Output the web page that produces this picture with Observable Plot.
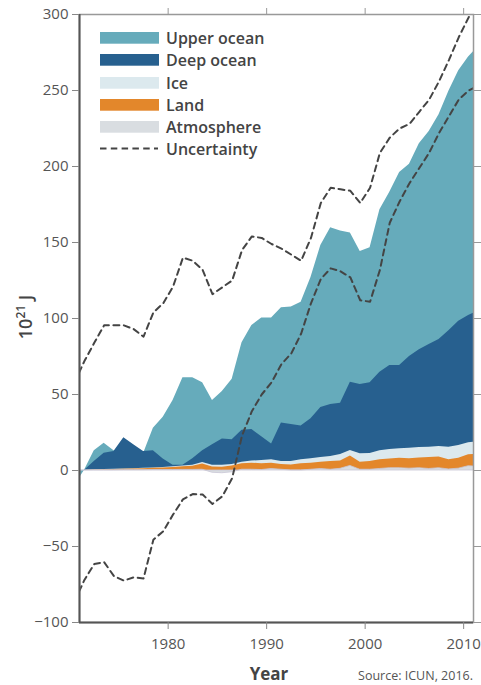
<!DOCTYPE html>
<html><head><meta charset="utf-8">
<script src="https://cdn.jsdelivr.net/npm/d3@7"></script>
<script src="https://cdn.jsdelivr.net/npm/@observablehq/plot@0.6"></script>
<style>body{margin:0;background:#fff} svg{display:block}</style>
</head><body><div id="chart"></div>
<script>
// Years (each value is plotted at the middle of its year)
const years = [1970,1971,1972,1973,1974,1975,1976,1977,1978,1979,1980,1981,1982,1983,1984,1985,1986,1987,1988,1989,1990,1991,1992,1993,1994,1995,1996,1997,1998,1999,2000,2001,2002,2003,2004,2005,2006,2007,2008,2009,2010,2011];
// Energy accumulation components, 10^21 J
const upperOcean = [-10,0,7,6.6,0.5,-11.5,-8,-1.5,14.8,27.5,42.5,57.5,53.3,44.7,29,31.2,39.7,57.5,68.4,78.1,82.8,75.8,77.2,81.5,93,106.5,116.3,113.2,98.2,87.4,88.8,106.8,114,127,126.5,135.6,140.1,147.8,157.5,164.8,170,174];
const deepOcean = [0,0,5.6,10.8,11.7,20.5,15.8,11.1,11.3,5.5,1.0,0.5,4.2,7.8,13.5,17.3,16.3,21,20.8,15.7,10.5,25.2,24.3,22.2,26.3,33,34.2,33.8,44.9,45.6,46.5,51.7,55.2,54.7,60.3,64.2,67.6,70.4,76.7,81.7,83.7,86];
const ice = [0,0,0.1,0.1,0.2,0.2,0.2,0.2,0.3,0.4,0.5,0.5,0.7,1.0,1.2,1.3,1.0,1.1,1.4,2.0,2.2,2.1,2.4,2.5,2.9,3.0,3.2,4.2,3.7,5.5,5.2,6.0,6.3,6.3,6.9,6.9,6.8,7.0,8.3,8.5,8.0,8.2];
const land = [0,0,0.2,0.4,0.5,0.6,0.8,1.0,1.1,1.3,1.7,2.1,2.4,3.7,3.8,4.0,4.2,3.9,4.3,4.2,3.8,3.4,3.6,4.5,4.3,4.5,5.5,5.2,6.5,5.0,5.5,6.0,6.0,6.5,6.6,6.8,7.5,7.3,6.3,6.8,7.5,8.3];
const atmosphere = [0,0,0.1,0.1,0.1,0.2,0.2,0.2,0.3,0.3,0.3,0.4,0.4,0.5,-1.5,-1.8,-1.2,0.5,0.5,0.3,1.0,0.5,0,0,0.5,1.0,0.5,1.1,3.0,0.5,0.5,1.0,1.5,1.5,1.2,1.5,1.0,1.5,0.7,1.2,2.8,2.5];
const uncertaintyHigh = [58,72,84,95.5,95.5,95.5,93,88,104,110,121,140,138,132,116,120.5,125,145,154,153,149,146,142,138,153,176,186,185,184,176,186,209,219,225,228,236,244,256,270,285,298,312];
const uncertaintyLow = [-86,-72,-61.5,-60.3,-69.5,-72.4,-70.3,-71,-45.5,-40,-29,-19,-15.5,-15.8,-22,-17,-5,23,39,50,58,70,77,90,110,126,133,131,127,112,111,132,163,177,189,199,209,222,233,244,250,253];

const yTicks = [-100,-50,0,50,100,150,200,250,300];
const xTicks = [1980,1990,2000,2010];
const xDomain = [1971, 2011];
const yDomain = [-100, 300];
const legendLabels = ["Upper ocean","Deep ocean","Ice","Land","Atmosphere","Uncertainty"];
const legendColors = ["#66abbb","#27608f","#dce9ee","#e3872b","#d9dde1","#444444"];

const rows = years.map((yr, i) => {
  const a = atmosphere[i];
  const l = a + land[i];
  const ic = l + ice[i];
  const dp = ic + deepOcean[i];
  const up = dp + upperOcean[i];
  return {t: yr + 0.5, a, l, ic, dp, up, hi: uncertaintyHigh[i], lo: uncertaintyLow[i]};
});

const fmt = d => d < 0 ? "\u2212" + Math.abs(d) : String(d);
const dash = "6,4.5";

const chart = Plot.plot({
  width: 481, height: 685,
  marginLeft: 79, marginRight: 8, marginTop: 14, marginBottom: 63,
  x: {domain: xDomain},
  y: {domain: yDomain},
  style: {fontFamily: "'Open Sans', sans-serif", fontSize: "15px", background: "#fff", color: "#555"},
  marks: [
    Plot.areaY(rows, {x: "t", y1: 0, y2: "up", fill: legendColors[0], clip: true}),
    Plot.areaY(rows, {x: "t", y1: 0, y2: "dp", fill: legendColors[1], clip: true}),
    Plot.areaY(rows, {x: "t", y1: 0, y2: "ic", fill: legendColors[2], clip: true}),
    Plot.areaY(rows, {x: "t", y1: 0, y2: "l", fill: legendColors[3], clip: true}),
    Plot.areaY(rows, {x: "t", y1: 0, y2: "a", fill: legendColors[4], stroke: "#c9c6d6", strokeWidth: 0.8, clip: true}),
    Plot.lineY(rows, {x: "t", y: "hi", stroke: "#444", strokeWidth: 2, strokeDasharray: dash, clip: true}),
    Plot.lineY(rows, {x: "t", y: "lo", stroke: "#444", strokeWidth: 2, strokeDasharray: dash, clip: true}),
    Plot.frame({stroke: "#999", strokeWidth: 1.5}),
    Plot.ruleX([xDomain[0]], {stroke: "#555", strokeWidth: 2}),
    Plot.ruleY([yDomain[0]], {stroke: "#555", strokeWidth: 2}),
    Plot.axisY({anchor: "left", ticks: yTicks, tickSize: 7, tickPadding: 4, tickFormat: fmt, label: null, stroke: "#888", fill: "#555", fontSize: 15}),
    Plot.axisY({anchor: "right", ticks: yTicks, tickSize: 7, tickFormat: () => "", label: null, stroke: "#999"}),
    Plot.axisX({anchor: "bottom", ticks: xTicks, tickSize: 7, tickPadding: 9, tickFormat: d => String(d), label: null, stroke: "#888", fill: "#555", fontSize: 15}),
    Plot.axisX({anchor: "top", ticks: xTicks, tickSize: 7, tickFormat: () => "", label: null, stroke: "#999"})
  ]
});

document.getElementById("chart").appendChild(chart);

const svg = d3.select(chart);
// Legend
const lg = svg.append("g").attr("font-family", "'Open Sans', sans-serif").attr("text-anchor", "start");
const rowTops = [32, 54, 77, 99, 121, 143];
legendLabels.forEach((lab, i) => {
  const top = rowTops[i];
  if (i < 5) {
    lg.append("rect").attr("x", 100).attr("y", top).attr("width", 59).attr("height", 11.7).attr("fill", legendColors[i]);
  } else {
    lg.append("line").attr("x1", 100).attr("x2", 158).attr("y1", top + 5.5).attr("y2", top + 5.5)
      .attr("stroke", legendColors[i]).attr("stroke-width", 2).attr("stroke-dasharray", "6.5,4.3");
  }
  lg.append("text").attr("x", 166).attr("y", top + 11.8).attr("text-anchor", "start").attr("font-size", 16).attr("font-weight", 600)
    .attr("fill", "#444").text(lab);
});
// Y label
const yl = svg.append("text").attr("transform", "translate(32,317) rotate(-90)").attr("text-anchor", "middle")
  .attr("font-family", "'Open Sans', sans-serif").attr("font-size", 18).attr("font-weight", 600).attr("fill", "#444");
yl.append("tspan").text("10");
yl.append("tspan").attr("dy", -7).attr("font-size", 12).text("21");
yl.append("tspan").attr("dy", 7).text(" J");
// X label and source
svg.append("text").attr("x", 269).attr("y", 680).attr("text-anchor", "middle").attr("font-family", "'Open Sans', sans-serif")
  .attr("font-size", 17).attr("font-weight", 700).attr("fill", "#444").text("Year");
svg.append("text").attr("x", 473).attr("y", 680).attr("text-anchor", "end").attr("font-family", "'Open Sans', sans-serif")
  .attr("font-size", 12.5).attr("fill", "#555").text("Source: ICUN, 2016.");
</script></body></html>
